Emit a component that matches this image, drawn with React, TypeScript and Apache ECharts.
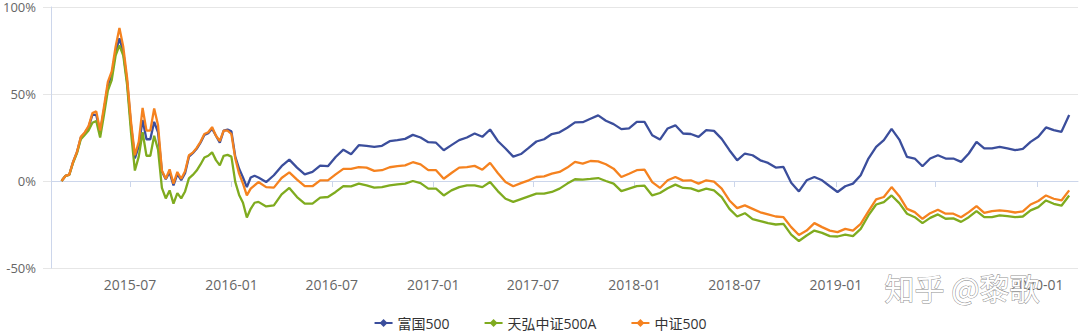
import React, { useEffect, useRef } from 'react';
import * as echarts from 'echarts';

// Series names (legend order)
const seriesNames = ['富国500', '天弘中证500A', '中证500'];
const seriesColors = ['#3b4e9c', '#7fab1f', '#f5821f'];

// Sampling: weekly from 2015-02-27 for the first 52 weeks, then every second week
const startDate = '2015-02-27';
const weeklyPoints = 52;
const biweeklyPoints = 105;

// x-axis tick labels (half-year)
const tickLabels = [
  '2015-07', '2016-01', '2016-07', '2017-01', '2017-07',
  '2018-01', '2018-07', '2019-01', '2019-07', '2020-01',
];
const yMin = -50;
const yMax = 100;
const yStep = 50;

// Cumulative return (%) — 富国500
const fuguo500 = [
  0, 2.9, 3.6, 11, 16.5, 25, 27.5, 31, 38, 38,
  28, 41, 55, 61, 74, 82, 74, 57, 32, 13,
  20, 35, 24, 24, 34, 28, 5.5, 1, 5, -2.5,
  4, 0.5, 4.5, 14, 16, 18.5, 22, 26.5, 27.5, 30,
  26, 22, 29, 29.5, 28.5, 14, 7, 2, -3.5, 2,
  3, 2,
  -0.6, 3.3, 8.5, 12.3, 7.7, 3.8, 5.2, 8.8, 8.5, 13.8,
  18, 15.4, 20.6, 20.2, 19.6, 20.2, 22.9, 23.5, 24.2, 26.5,
  25, 22.3, 22, 17.7, 20.6,
  23.5, 25, 27.3, 25.4, 29.6, 23, 18.7, 14, 15.5, 19,
  22.7, 24, 27, 28, 30.6, 33.7, 33.8, 35.8, 37.7, 34.6,
  32.7, 29.8, 30.2, 34, 34, 26.3,
  23.8, 30.2, 32, 27.3, 27, 25.4, 29.2, 28.8, 24.2, 17.7,
  11.9, 15.8, 14.8, 11.9, 10.4, 7.7, 8.1, -1, -6, 0.4,
  2.3, 0.4, -3, -6.3, -3, -1.5,
  3.3, 12.9, 19.6, 23.5, 30, 23.8, 13.8, 12.9, 8.5, 12.9,
  14.8, 12.9, 12.9, 11, 15.8, 22.5, 18.7, 18.7, 19.6, 18.7,
  17.7, 18.5, 22.5, 25.4, 30.8, 29.2, 28.3, 37.9,
];

// Cumulative return (%) — 天弘中证500A
const tianhong500A = [
  0, 2.9, 3.5, 10.5, 16, 24, 26.5, 29, 33.5, 34.5,
  25, 38, 52, 58, 72, 78, 72, 55, 28, 6,
  14, 28, 14.5, 14.5, 26, 18, -4, -10, -5.4, -13,
  -7, -10, -6, 1.5, 3.5, 6, 9.5, 13.5, 14.5, 16.5,
  12, 9, 14.5, 15, 14, -0.5, -8, -12.5, -21, -16,
  -12.5, -12,
  -14.6, -14, -7.7, -4, -9.2, -13, -13, -9.6, -9.2, -6.3,
  -2.9, -3.1, -1.5, -2.5, -3.8, -3.5, -2.5, -1.9, -1.5, 0,
  -1.2, -4.4, -4.4, -8.3, -5.4,
  -3.5, -2.5, -2.5, -3.5, -0.6, -5.8, -10.2, -12, -10.4, -8.8,
  -7.3, -7.3, -6.3, -4.4, -1.5, 1, 0.8, 1.2, 1.7, 0,
  -1.5, -5.8, -4.4, -3, -2.7, -8.3,
  -6.9, -4.2, -2.1, -4, -4.2, -5.8, -4.4, -5.4, -9.2, -16,
  -20.4, -18.5, -21.9, -23, -24.2, -25, -24.6, -30.8, -34.5, -31.3,
  -28.5, -29.8, -31.7, -31.9, -30.8, -31.7,
  -27.5, -19.8, -13.5, -12.1, -8.3, -12.7, -18.8, -20.8, -24.2, -21.2,
  -19.2, -21.7, -21.5, -23.5, -20.8, -17.3, -20.8, -20.8, -19.8, -20.2,
  -20.8, -20.4, -16.9, -15, -11.2, -13.1, -14.2, -8.3,
];

// Cumulative return (%) — 中证500
const zz500 = [
  0, 2.9, 3.7, 11, 16.7, 25.4, 27.9, 31.5, 39, 40,
  29, 42.7, 57, 63, 77, 88, 77, 59, 34, 14.8,
  22.5, 42, 29, 29, 41.7, 32, 6, 1.3, 6.7, -1.5,
  5.2, 1.3, 5.6, 14.8, 16.3, 19, 22.5, 27, 28, 31,
  26, 23, 29, 29, 27, 13, 4.2, -1.5, -8.3, -4.4,
  -2.5, -0.6,
  -3.5, -3.8, 1.7, 5, 0.8, -3, -3, 0.4, 0.4, 3.8,
  7, 7, 8, 7.7, 5.8, 6.2, 7.9, 8.5, 9, 10.8,
  9.6, 6.2, 6.2, 1.3, 4.6,
  7.7, 8, 8.7, 6.5, 10.4, 4.6, -0.6, -3, -1.2, 0.4,
  2.3, 2.7, 4.2, 5.2, 7.7, 11, 10, 11.5, 11.3, 9.6,
  7.1, 2.3, 4.2, 6.2, 6.5, -0.6,
  -4, 0.4, 2.3, 0.2, 0.4, -1.5, 0.4, -0.4, -4.4, -11.2,
  -15.6, -14, -16, -18, -19.2, -20.4, -20.8, -26.5, -31, -28.5,
  -24.2, -26.5, -28.5, -29.4, -27.5, -28.5,
  -24.6, -17.5, -10.6, -9.2, -3.5, -8.7, -16, -17.9, -21.7, -18.5,
  -16.5, -18.8, -18.8, -20.8, -17.9, -14.4, -18.3, -17.3, -16.9, -17.3,
  -18.1, -17.5, -13.5, -11.5, -8.3, -10.2, -11.2, -5.4,
];

const DAY = 86400000;
const parseDay = (s: string) => {
  const [y, m, d] = s.split('-').map(Number);
  return Date.UTC(y, m - 1, d || 1);
};

function buildDates(): number[] {
  const t0 = parseDay(startDate);
  const out: number[] = [];
  for (let i = 0; i < weeklyPoints; i++) out.push(t0 + i * 7 * DAY);
  for (let i = 0; i < biweeklyPoints; i++) out.push(t0 + (weeklyPoints + 1 + 2 * i) * 7 * DAY);
  return out;
}

export default function App() {
  const ref = useRef<HTMLDivElement>(null);

  useEffect(() => {
    if (!ref.current) return;
    const chart = echarts.init(ref.current, null, { renderer: 'svg' });
    const dates = buildDates();
    const values = [fuguo500, tianhong500A, zz500];
    const ticks = tickLabels.map(parseDay);
    const font = '"Open Sans", "Noto Sans CJK SC", sans-serif';
    const wmFont = '"Noto Sans CJK SC", sans-serif';
    const watermark = '知乎 @黎歌';

    chart.setOption({
      animation: false,
      backgroundColor: '#ffffff',
      textStyle: { fontFamily: font },
      grid: { left: 48, right: 2, top: 7, bottom: 66, containLabel: false },
      legend: {
        data: seriesNames,
        left: 'center',
        top: 311,
        itemWidth: 18,
        itemHeight: 10,
        itemGap: 34,
        textStyle: { fontSize: 14, color: '#333', fontFamily: font },
      },
      xAxis: {
        type: 'value',
        min: parseDay('2015-02-08'),
        max: parseDay('2020-03-15'),
        axisLine: { show: true, lineStyle: { color: '#ccd6eb', width: 1 } },
        axisTick: {
          show: true,
          length: 6,
          customValues: ticks,
          lineStyle: { color: '#ccd6eb' },
        },
        axisLabel: {
          customValues: ticks,
          color: '#666',
          fontSize: 14,
          margin: 9,
          fontFamily: font,
          formatter: (v: number) => {
            const d = new Date(v);
            const m = d.getUTCMonth() + 1;
            return `${d.getUTCFullYear()}-${m < 10 ? '0' + m : m}`;
          },
        },
        splitLine: { show: false },
      },
      yAxis: {
        type: 'value',
        min: yMin,
        max: yMax,
        interval: yStep,
        axisLine: { show: true, lineStyle: { color: '#ccd6eb' } },
        axisTick: { show: true, length: 8, lineStyle: { color: '#e6e6e6' } },
        axisLabel: {
          formatter: '{value}%',
          color: '#666',
          fontSize: 13,
          margin: 15,
          fontFamily: font,
        },
        splitLine: { show: true, lineStyle: { color: '#e6e6e6' } },
      },
      series: seriesNames.map((name, k) => ({
        name,
        type: 'line',
        data: dates.map((t, i) => [t, values[k][i]]),
        symbol: 'diamond',
        symbolSize: 8,
        showSymbol: false,
        lineStyle: { width: 2.3, color: seriesColors[k] },
        itemStyle: { color: seriesColors[k] },
        emphasis: { disabled: true },
      })),
      graphic: [
        {
          type: 'rect',
          z: 99,
          silent: true,
          shape: { x: 906, y: 275, width: 62, height: 19 },
          style: { fill: '#ffffff' },
        },
        {
          type: 'text',
          left: 884,
          top: 271,
          z: 100,
          silent: true,
          style: {
            text: watermark,
            fontSize: 30,
            fontFamily: wmFont,
            fill: '#ffffff',
            stroke: '#8f8f8f',
            lineWidth: 1,
            shadowColor: 'rgba(0,0,0,0.25)',
            shadowOffsetX: 1,
            shadowOffsetY: 1,
            shadowBlur: 1,
          },
        },
      ],
    });

    return () => chart.dispose();
  }, []);

  return (
    <div
      ref={ref}
      style={{ position: 'fixed', left: 0, top: 0, width: 1080, height: 334, background: '#fff' }}
    />
  );
}
